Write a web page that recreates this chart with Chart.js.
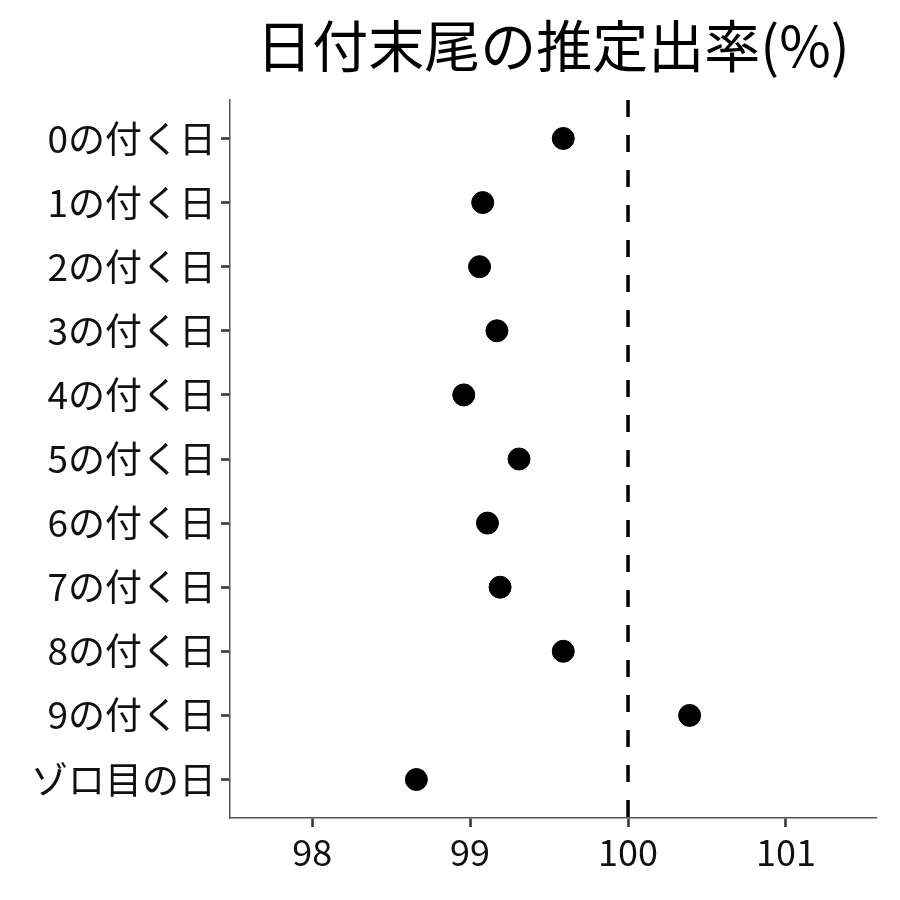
<!DOCTYPE html>
<html>
<head>
<meta charset="utf-8">
<script src="https://cdn.jsdelivr.net/npm/chart.js@4"></script>
<style>
  html, body { margin: 0; padding: 0; background: #fff; }
  #wrap { width: 900px; height: 900px; }
</style>
</head>
<body>
<div id="wrap"><canvas id="dotChart" width="900" height="900"></canvas></div>
<script>
const categories = ["0の付く日", "1の付く日", "2の付く日", "3の付く日", "4の付く日",
  "5の付く日", "6の付く日", "7の付く日", "8の付く日", "9の付く日", "ゾロ目の日"];
const rates = [99.59, 99.08, 99.06, 99.17, 98.96, 99.31, 99.11, 99.19, 99.59, 100.39, 98.66];
const xTicks = [98, 99, 100, 101];
const refLine = 100;
const titleText = "日付末尾の推定出率(%)";

const FONT = "'Noto Sans CJK JP', 'Noto Sans', sans-serif";

// title centred over the plot area (like ggplot)
const plotTitle = {
  id: "plotTitle",
  afterDraw(chart) {
    const { ctx, chartArea } = chart;
    ctx.save();
    ctx.font = "56px " + FONT;
    ctx.fillStyle = "#000";
    ctx.textAlign = "center";
    ctx.textBaseline = "middle";
    ctx.fillText(titleText, (chartArea.left + chartArea.right) / 2, 46);
    ctx.restore();
  }
};

new Chart(document.getElementById("dotChart"), {
  type: "scatter",
  data: {
    datasets: [
      {
        data: rates.map((v, i) => ({ x: v, y: i })),
        backgroundColor: "#000",
        borderColor: "#000",
        pointRadius: 11,
        pointHoverRadius: 11,
      },
      {
        type: "line",
        data: [{ x: refLine, y: -0.6 }, { x: refLine, y: categories.length - 0.4 }],
        borderColor: "#000",
        borderWidth: 3.5,
        borderDash: [17, 18],
        pointRadius: 0,
        fill: false,
      },
    ],
  },
  options: {
    responsive: false,
    animation: false,
    layout: { padding: { top: 100, right: 24, left: 0, bottom: 0 } },
    plugins: { legend: { display: false }, tooltip: { enabled: false } },
    scales: {
      x: {
        type: "linear",
        min: 97.48,
        max: 101.57,
        afterBuildTicks: (s) => { s.ticks = xTicks.map((v) => ({ value: v })); },
        afterFit: (s) => { s.height = 82; },
        border: { color: "#555", width: 1.5 },
        grid: { drawOnChartArea: false, drawTicks: true, tickLength: 9, tickColor: "#333", tickWidth: 2.5 },
        ticks: { color: "#111", font: { family: FONT, size: 36 }, padding: 4, callback: (v) => String(v) },
      },
      y: {
        type: "linear",
        reverse: true,
        min: -0.6,
        max: categories.length - 0.4,
        afterBuildTicks: (s) => { s.ticks = categories.map((c, i) => ({ value: i })); },
        afterFit: (s) => { s.width = 230; },
        border: { color: "#555", width: 1.5 },
        grid: { drawOnChartArea: false, drawTicks: true, tickLength: 9, tickColor: "#333", tickWidth: 2.5 },
        ticks: { color: "#111", font: { family: FONT, size: 37 }, padding: 5, callback: (v) => categories[v] },
      },
    },
  },
  plugins: [plotTitle],
});
</script>
</body>
</html>
